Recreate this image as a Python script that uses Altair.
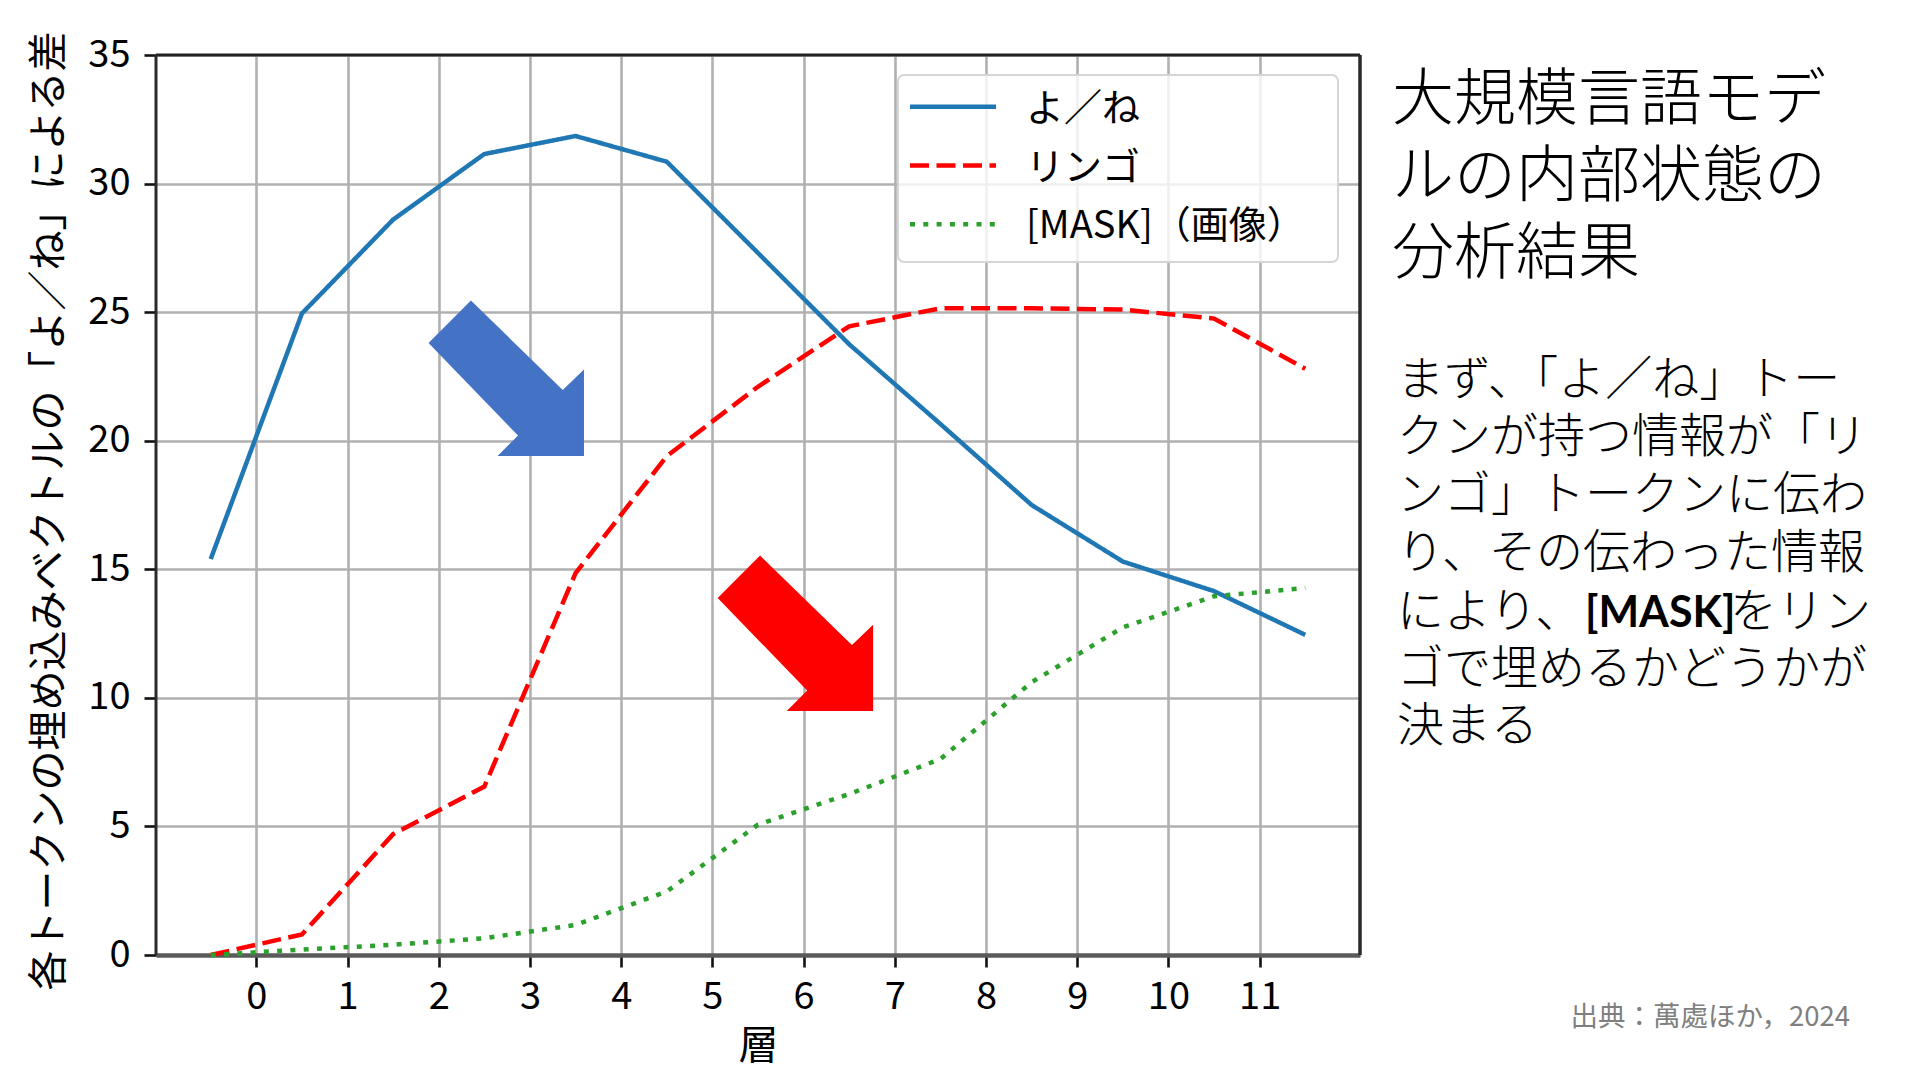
import altair as alt
import pandas as pd

FONT = "Noto Sans CJK JP"

# ---- data ----
layers_x = [-0.5, 0.5, 1.5, 2.5, 3.5, 4.5, 5.5, 6.5, 7.5, 8.5, 9.5, 10.5, 11.5]
yo_ne = [15.4, 24.95, 28.6, 31.15, 31.85, 30.85, 27.3, 23.75, 20.65, 17.5, 15.3, 14.15, 12.45]
ringo = [0.0, 0.8, 4.7, 6.55, 14.85, 19.4, 22.1, 24.45, 25.15, 25.15, 25.1, 24.75, 22.8]
mask_img = [0.0, 0.21, 0.4, 0.65, 1.17, 2.47, 5.07, 6.26, 7.62, 10.61, 12.74, 13.95, 14.27]

series_names = ["よ／ね", "リンゴ", "[MASK]（画像）"]
series_colors = ["#1f77b4", "#ff0000", "#2ca02c"]
series_dashes = [[1, 0], [19, 7.5], [5, 8.3]]
series_values = [yo_ne, ringo, mask_img]

x_ticks = list(range(0, 12))
y_ticks = list(range(0, 36, 5))
x_title = "層"
y_title = "各トークンの埋め込みベクトルの「よ／ね」による差"

arrow_x = [2.74, 5.91]
arrow_y = [22.43, 12.51]
arrow_colors = ["#4472c4", "#ff0000"]

title_lines = ["大規模言語モデ", "ルの内部状態の", "分析結果"]
body_lines = ["まず、「よ／ね」トー", "クンが持つ情報が「リ", "ンゴ」トークンに伝わ",
              "り、その伝わった情報", "により、", "ゴで埋めるかどうかが", "決まる"]
body_bold = "[MASK]"
body_rest = "をリン"
source_text = "出典：萬處ほか，2024"

# ---- layout (pixels, relative to the plot area) ----
W, H = 1204, 900
ARROW_PATH = "M-0.99,-0.45 L-0.45,-0.99 L0.72,0.15 L0.99,-0.11 L0.99,0.99 L-0.11,0.99 L0.15,0.73 Z"
body_centers = [321.7, 379.6, 437.5, 495.4, 554.6, 611.3, 668.0]
BODY_FS = 47

xscale = alt.Scale(domain=[-1.1, 12.1], nice=False, zero=False)
yscale = alt.Scale(domain=[0, 35], nice=False, zero=False)

xaxis = alt.Axis(values=x_ticks, title=x_title, grid=True, gridColor="#b0b0b0", gridWidth=2.6,
                 tickSize=12, tickWidth=2.6, tickColor="#111111",
                 labelFontSize=38, labelColor="black", labelFont=FONT, labelPadding=11,
                 labelFlush=False, labelOverlap=False,
                 domainColor="#5a5a5a", domainWidth=4.5,
                 titleFontSize=40, titleFontWeight="normal", titleColor="black", titleFont=FONT,
                 titleX=602, titleY=91.5, titleBaseline="middle", titleAlign="center")
yaxis = alt.Axis(values=y_ticks, title=y_title, grid=True, gridColor="#b0b0b0", gridWidth=2.6,
                 tickSize=12, tickWidth=2.6, tickColor="#111111",
                 labelFontSize=38, labelColor="black", labelFont=FONT, labelPadding=14,
                 labelFlush=False, labelOverlap=False, domain=False,
                 titleFontSize=40, titleFontWeight="normal", titleColor="black", titleFont=FONT,
                 titleX=-107, titleY=455.5, titleAngle=270, titleBaseline="middle", titleAlign="center")

X = alt.X("layer:Q", scale=xscale, axis=xaxis)
Y = alt.Y("value:Q", scale=yscale, axis=yaxis)

layers = []
for name, col, dash, vals in zip(series_names, series_colors, series_dashes, series_values):
    d = pd.DataFrame({"layer": layers_x, "value": vals, "series": name})
    layers.append(
        alt.Chart(d).mark_line(color=col, strokeDash=dash, strokeWidth=4.5, strokeCap="butt")
        .encode(x=X, y=Y)
    )

arrow_df = pd.DataFrame({"layer": arrow_x, "value": arrow_y, "c": arrow_colors})
layers.append(
    alt.Chart(arrow_df).mark_point(shape=ARROW_PATH, size=24649, filled=True, opacity=1, strokeWidth=0)
    .encode(x=X, y=Y, fill=alt.Fill("c:N", scale=None))
)

one = pd.DataFrame({"k": [0]})

# frame (top, left, right spines) drawn above the gridlines
layers.append(alt.Chart(one).mark_rule(color="#222222", strokeWidth=3)
              .encode(x=alt.value(0), x2=alt.value(W), y=alt.value(0)))
layers.append(alt.Chart(one).mark_rule(color="#2a2a2a", strokeWidth=3)
              .encode(x=alt.value(0), y=alt.value(0), y2=alt.value(H)))
layers.append(alt.Chart(one).mark_rule(color="#2a2a2a", strokeWidth=3.5)
              .encode(x=alt.value(W), y=alt.value(0), y2=alt.value(H)))

# legend
layers.append(
    alt.Chart(one).mark_rect(fill="white", fillOpacity=0.8, stroke="#d5d5d5", strokeWidth=2, cornerRadius=6)
    .encode(x=alt.value(742), x2=alt.value(1182), y=alt.value(20), y2=alt.value(207))
)
for i, (name, col, dash) in enumerate(zip(series_names, series_colors, series_dashes)):
    yy = 51.7 + i * 58.8
    layers.append(
        alt.Chart(one).mark_rule(color=col, strokeDash=dash, strokeWidth=4.5, strokeCap="butt")
        .encode(x=alt.value(754), x2=alt.value(840), y=alt.value(yy))
    )
    layers.append(
        alt.Chart(one).mark_text(text=name, align="left", baseline="middle", fontSize=38,
                                 font=FONT, color="black")
        .encode(x=alt.value(870), y=alt.value(yy + 3))
    )

# right-side title
layers.append(
    alt.Chart(one).mark_text(text=title_lines, align="left", baseline="top", fontSize=62,
                             lineHeight=77, font=FONT, fontWeight=300, color="black")
    .encode(x=alt.value(1236), y=alt.value(15.5))
)
# body text, one mark per line
for line, cy in zip(body_lines, body_centers):
    layers.append(
        alt.Chart(one).mark_text(text=line, align="left", baseline="alphabetic", fontSize=BODY_FS,
                                 font=FONT, fontWeight=300, color="black")
        .encode(x=alt.value(1241), y=alt.value(cy + 0.38 * BODY_FS))
    )
layers.append(
    alt.Chart(one).mark_text(text=body_bold, align="left", baseline="alphabetic", fontSize=43,
                             font="Lato", fontWeight="bold", color="black")
    .encode(x=alt.value(1429), y=alt.value(body_centers[4] + 0.38 * BODY_FS))
)
layers.append(
    alt.Chart(one).mark_text(text=body_rest, align="left", baseline="alphabetic", fontSize=BODY_FS,
                             font=FONT, fontWeight=300, color="black")
    .encode(x=alt.value(1574), y=alt.value(body_centers[4] + 0.38 * BODY_FS))
)
layers.append(
    alt.Chart(one).mark_text(text=source_text, align="right", baseline="alphabetic", fontSize=27.5,
                             font=FONT, color="#7f7f7f")
    .encode(x=alt.value(1694), y=alt.value(971))
)

chart = (
    alt.layer(*layers)
    .properties(width=W, height=H, autosize=alt.AutoSizeParams(type="none"),
                padding={"left": 148, "top": 47, "right": 552, "bottom": 117},
                background="white")
    .configure_view(stroke=None)
    .configure(font=FONT)
)

chart.save("out.html", embed_options={"renderer": "svg", "actions": False})
